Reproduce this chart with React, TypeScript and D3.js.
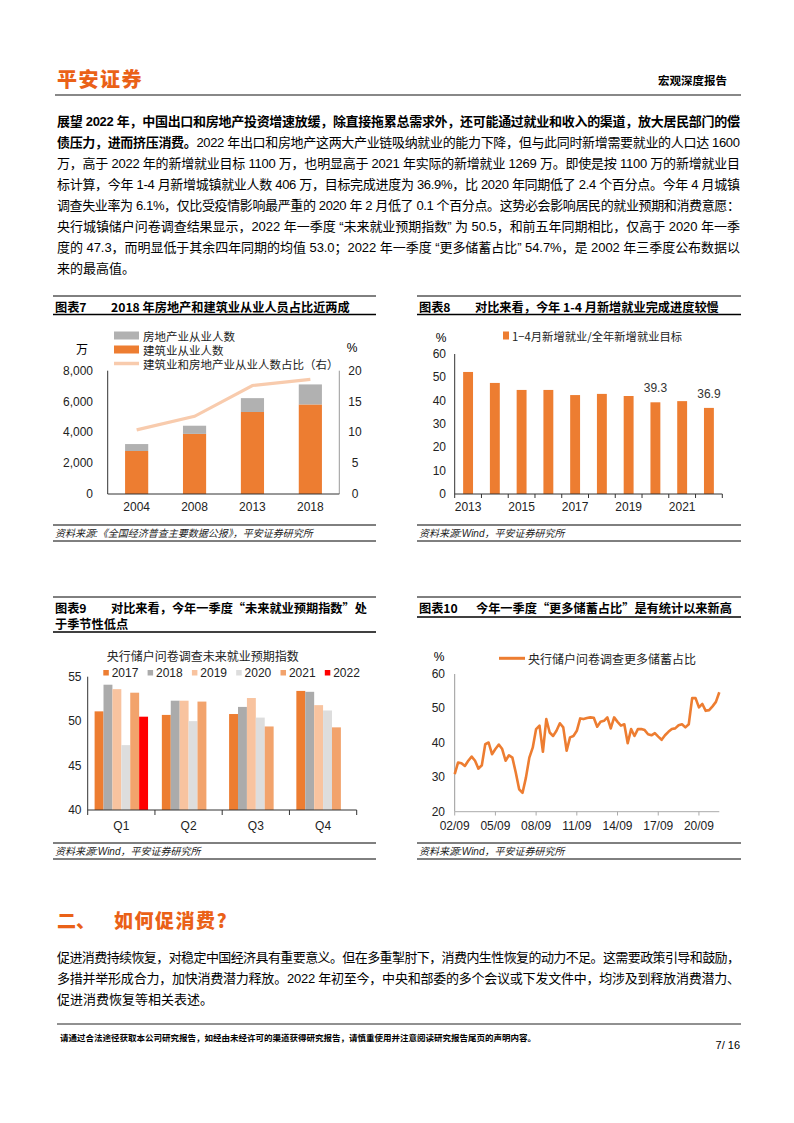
import React from 'react';
import * as d3 from 'd3';

const LAT = "'Liberation Sans', Arial, 'Noto Sans CJK SC', sans-serif";
const CJK = "'Noto Sans CJK SC', 'Liberation Sans', sans-serif";
const ORANGE = '#ed7d31';
const BRAND = '#ea6117';

// ---------- Chart 7 ----------
const c7Years = ['2004', '2008', '2013', '2018'];
const c7Construction = [2790, 3900, 5320, 5810];
const c7RealEstate = [450, 530, 900, 1300];
const c7Share = [10.4, 12.6, 17.6, 18.6];
const c7LeftTicks = [0, 2000, 4000, 6000, 8000];
const c7RightTicks = [0, 5, 10, 15, 20];

// ---------- Chart 8 ----------
const c8Years = ['2013', '2014', '2015', '2016', '2017', '2018', '2019', '2020', '2021', '2022'];
const c8Values = [52.3, 47.6, 44.6, 44.6, 42.4, 42.9, 42.0, 39.3, 39.8, 36.9];
const c8Ticks = [0, 10, 20, 30, 40, 50, 60];
const c8TickYears = ['2013', '2015', '2017', '2019', '2021'];
const c8Labelled = ['2020', '2022'];

// ---------- Chart 9 ----------
const c9Quarters = ['Q1', 'Q2', 'Q3', 'Q4'];
const c9Years = ['2017', '2018', '2019', '2020', '2021', '2022'];
const c9Y2017 = [51.1, 50.7, 50.8, 53.4];
const c9Y2018 = [54.1, 52.3, 51.6, 53.3];
const c9Y2019 = [53.6, 52.3, 52.6, 51.8];
const c9Y2020 = [47.3, 50.0, 50.4, 51.2];
const c9Y2021 = [53.2, 52.2, 49.4, 49.3];
const c9Y2022 = [50.5];
const c9Colors = ['#ed7d31', '#ababab', '#f8c39f', '#dddddd', '#f2a36c', '#ff0000'];
const c9Ticks = [40, 45, 50, 55];

// ---------- Chart 10 ----------
const c10Values = [
  30.9, 34.3, 34.1, 33.3, 34.8, 36.0, 34.8, 32.5, 33.5, 39.6,
  40.1, 36.7, 38.2, 39.5, 38.2, 34.8, 36.4, 35.7, 31.4, 26.5,
  25.5, 29.9, 35.7, 38.6, 44.0, 45.0, 37.4, 46.9, 43.0, 42.0,
  43.5, 45.7, 44.5, 37.7, 41.6, 42.0, 43.5, 47.1, 46.9, 47.2,
  47.4, 47.3, 44.7, 46.1, 46.4, 47.4, 44.2, 47.4, 46.1, 45.0,
  45.4, 39.9, 44.0, 42.0, 44.0, 44.0, 43.7, 42.5, 42.2, 42.8,
  41.8, 40.9, 42.2, 43.2, 44.0, 44.2, 45.1, 45.4, 44.5, 45.4,
  53.0, 53.0, 50.3, 51.3, 49.3, 49.5, 50.6, 51.9, 54.7,
];
const c10TickLabels = ['02/09', '05/09', '08/09', '11/09', '14/09', '17/09', '20/09'];
const c10Ticks = [20, 30, 40, 50, 60];
// quarter labels yy/mm starting 2002-09
const c10Dates: string[] = [];
for (let i = 0; i < 79; i++) {
  const m = 9 + i * 3;
  const y = 2 + Math.floor((m - 1) / 12);
  const mm = ((m - 1) % 12) + 1;
  c10Dates.push(`${String(y).padStart(2, '0')}/${String(mm).padStart(2, '0')}`);
}

// ---------- Text ----------
const para1: { b?: string; n?: string }[] = [
  { b: '展望 2022 年，中国出口和房地产投资增速放缓，除直接拖累总需求外，还可能通过就业和收入的渠道，放大居民部门的偿' },
  { b: '债压力，进而挤压消费。', n: '2022 年出口和房地产这两大产业链吸纳就业的能力下降，但与此同时新增需要就业的人口达 1600' },
  { n: '万，高于 2022 年的新增就业目标 1100 万，也明显高于 2021 年实际的新增就业 1269 万。即使是按 1100 万的新增就业目' },
  { n: '标计算，今年 1-4 月新增城镇就业人数 406 万，目标完成进度为 36.9%，比 2020 年同期低了 2.4 个百分点。今年 4 月城镇' },
  { n: '调查失业率为 6.1%，仅比受疫情影响最严重的 2020 年 2 月低了 0.1 个百分点。这势必会影响居民的就业预期和消费意愿：' },
  { n: '央行城镇储户问卷调查结果显示，2022 年一季度 “未来就业预期指数” 为 50.5，和前五年同期相比，仅高于 2020 年一季' },
  { n: '度的 47.3，而明显低于其余四年同期的均值 53.0；2022 年一季度 “更多储蓄占比” 54.7%，是 2002 年三季度公布数据以' },
  { n: '来的最高值。' },
];
const para2 = [
  '促进消费持续恢复，对稳定中国经济具有重要意义。但在多重掣肘下，消费内生性恢复的动力不足。这需要政策引导和鼓励，',
  '多措并举形成合力，加快消费潜力释放。2022 年初至今，中央和部委的多个会议或下发文件中，均涉及到释放消费潜力、',
  '促进消费恢复等相关表述。',
];

const T = (p: any) => (
  <text fontFamily={LAT} dominantBaseline="central" fill="#000" {...p}>
    {p.children}
  </text>
);

function PanelFrame({ x0, x1, top, titleBottom, srcTop, srcBottom, label, titleLines, titleX, source }: any) {
  return (
    <g>
      <line x1={x0} x2={x1} y1={top} y2={top} stroke="#000" strokeWidth={1} />
      <line x1={x0} x2={x1} y1={titleBottom} y2={titleBottom} stroke="#000" strokeWidth={1.5} />
      <T x={x0 + 2} y={top + 10.5} fontSize={12.2} fontWeight="bold" fontFamily={CJK}>{label}</T>
      {titleLines.map((t: string, i: number) => (
        <T key={i} x={i === 0 ? titleX : x0 + 2} y={top + 10.5 + i * 16.5} fontSize={12.2} fontWeight="bold" fontFamily={CJK}>{t}</T>
      ))}
      <line x1={x0} x2={x1} y1={srcTop} y2={srcTop} stroke="#000" strokeWidth={1} />
      <line x1={x0} x2={x1} y1={srcBottom} y2={srcBottom} stroke="#000" strokeWidth={1} />
      <T x={x0 + 2} y={(srcTop + srcBottom) / 2 + 0.5} fontSize={10} fontStyle="italic" fill="#222">{source}</T>
    </g>
  );
}

function Chart7() {
  const x = d3.scaleBand<string>().domain(c7Years).range([107.7, 339.3]).paddingInner(0.6).paddingOuter(0.3);
  const y = d3.scaleLinear().domain([0, 8000]).range([494, 370.7]);
  const yr = d3.scaleLinear().domain([0, 20]).range([494, 370.7]);
  const line = d3.line<number>().x((_, i) => (x(c7Years[i]) as number) + x.bandwidth() / 2).y((d) => yr(d));
  return (
    <g>
      {c7Years.map((yrLabel, i) => {
        const bx = x(yrLabel) as number;
        const total = c7Construction[i] + c7RealEstate[i];
        return (
          <g key={yrLabel}>
            <rect x={bx} width={x.bandwidth()} y={y(c7Construction[i])} height={y(0) - y(c7Construction[i])} fill={ORANGE} />
            <rect x={bx} width={x.bandwidth()} y={y(total)} height={y(c7Construction[i]) - y(total)} fill="#b1b1b1" />
            <T x={bx + x.bandwidth() / 2} y={507} fontSize={12} textAnchor="middle" fill="#222">{yrLabel}</T>
          </g>
        );
      })}
      <path d={line(c7Share) || ''} fill="none" stroke="#f8cbad" strokeWidth={3.2} />
      <line x1={107.7} x2={107.7} y1={370.7} y2={494} stroke="#333" strokeWidth={1} />
      <line x1={339.3} x2={339.3} y1={370.7} y2={494} stroke="#999" strokeWidth={1} />
      <line x1={107.7} x2={339.3} y1={494} y2={494} stroke="#333" strokeWidth={1} />
      {c7LeftTicks.map((t) => (
        <T key={t} x={93} y={y(t)} fontSize={12} textAnchor="end" fill="#222">{d3.format(',')(t)}</T>
      ))}
      {c7RightTicks.map((t) => (
        <T key={t} x={355} y={yr(t)} fontSize={12} textAnchor="middle" fill="#222">{t}</T>
      ))}
      <T x={82} y={348} fontSize={12} textAnchor="middle" fontFamily={CJK}>万</T>
      <T x={352} y={348} fontSize={12} textAnchor="middle">%</T>
      <rect x={114} y={331.5} width={25} height={8} fill="#b1b1b1" />
      <T x={143} y={335.5} fontSize={11.5} fontFamily={CJK} fill="#222">房地产业从业人数</T>
      <rect x={114} y={345.5} width={25} height={8} fill={ORANGE} />
      <T x={143} y={349.5} fontSize={11.5} fontFamily={CJK} fill="#222">建筑业从业人数</T>
      <line x1={114} x2={139} y1={363.5} y2={363.5} stroke="#f8cbad" strokeWidth={3.5} />
      <T x={143} y={363.5} fontSize={11.5} fontFamily={CJK} fill="#222">建筑业和房地产业从业人数占比（右）</T>
    </g>
  );
}

function Chart8() {
  const x = d3.scaleBand<string>().domain(c8Years).range([454.7, 722.3]).paddingInner(0.63).paddingOuter(0.315);
  const y = d3.scaleLinear().domain([0, 60]).range([494, 354]);
  const step = x.step();
  return (
    <g>
      {c8Years.map((yy, i) => {
        const bx = x(yy) as number;
        return (
          <g key={yy}>
            <rect x={bx} width={x.bandwidth()} y={y(c8Values[i])} height={y(0) - y(c8Values[i])} fill={ORANGE} />
            {c8Labelled.includes(yy) && (
              <T x={bx + x.bandwidth() / 2} y={y(c8Values[i]) - 14} fontSize={12} textAnchor="middle" fill="#333">{c8Values[i].toFixed(1)}</T>
            )}
            {c8TickYears.includes(yy) && (
              <T x={bx + x.bandwidth() / 2} y={507} fontSize={12} textAnchor="middle" fill="#222">{yy}</T>
            )}
          </g>
        );
      })}
      {d3.range(c8Years.length + 1).map((i) => (
        <line key={i} x1={454.7 + i * step} x2={454.7 + i * step} y1={494} y2={498} stroke="#333" />
      ))}
      <line x1={454.7} x2={454.7} y1={354} y2={494} stroke="#333" />
      <line x1={454.7} x2={722.3} y1={494} y2={494} stroke="#333" />
      {c8Ticks.map((t) => (
        <T key={t} x={446} y={y(t)} fontSize={12} textAnchor="end" fill="#222">{t}</T>
      ))}
      <T x={441} y={338} fontSize={12} textAnchor="middle">%</T>
      <rect x={503} y={331.5} width={6} height={8} fill={ORANGE} />
      <T x={512} y={335.7} fontSize={11.3} fontFamily={CJK} fill="#222">1−4月新增就业/全年新增就业目标</T>
    </g>
  );
}

function Chart9() {
  const x0 = d3.scaleBand<string>().domain(c9Quarters).range([87.7, 356.7]);
  const x1 = d3.scaleBand<string>().domain(c9Years).range([6.9, x0.bandwidth() - 6.9]);
  const y = d3.scaleLinear().domain([40, 55]).range([810, 676.7]);
  const series = [c9Y2017, c9Y2018, c9Y2019, c9Y2020, c9Y2021, c9Y2022];
  return (
    <g>
      {c9Quarters.map((q, qi) => (
        <g key={q}>
          {series.map((s, si) =>
            s[qi] === undefined ? null : (
              <rect key={si} x={(x0(q) as number) + (x1(c9Years[si]) as number)} width={x1.bandwidth()}
                y={y(s[qi])} height={y(40) - y(s[qi])} fill={c9Colors[si]} />
            )
          )}
          <T x={(x0(q) as number) + x0.bandwidth() / 2} y={825.5} fontSize={12} textAnchor="middle" fill="#222">{q}</T>
        </g>
      ))}
      {d3.range(c9Quarters.length + 1).map((i) => (
        <line key={i} x1={87.7 + i * x0.step()} x2={87.7 + i * x0.step()} y1={810} y2={815} stroke="#333" />
      ))}
      <line x1={87.7} x2={87.7} y1={676.7} y2={810} stroke="#333" />
      <line x1={87.7} x2={356.7} y1={810} y2={810} stroke="#333" />
      {c9Ticks.map((t) => (
        <T key={t} x={81.5} y={y(t)} fontSize={12} textAnchor="end" fill="#222">{t}</T>
      ))}
      <T x={106.7} y={655} fontSize={12} fontFamily={CJK} fill="#222">央行储户问卷调查未来就业预期指数</T>
      {c9Years.map((yy, i) => (
        <g key={yy}>
          <rect x={103.3 + i * 44.3} y={670} width={5.5} height={5.5} fill={c9Colors[i]} />
          <T x={111.7 + i * 44.3} y={673} fontSize={12} fill="#222">{yy}</T>
        </g>
      ))}
    </g>
  );
}

function Chart10() {
  const x = d3.scalePoint<string>().domain(c10Dates).range([454.7, 719.3]);
  const y = d3.scaleLinear().domain([20, 60]).range([811.7, 674]);
  const line = d3.line<number>().x((_, i) => x(c10Dates[i]) as number).y((d) => y(d));
  return (
    <g>
      <line x1={454.7} x2={454.7} y1={674} y2={811.7} stroke="#999" />
      <line x1={454.7} x2={719.3} y1={811.7} y2={811.7} stroke="#aaa" />
      {c10TickLabels.map((l) => (
        <g key={l}>
          <line x1={x(l) as number} x2={x(l) as number} y1={811.7} y2={815.5} stroke="#aaa" />
          <T x={x(l) as number} y={825.7} fontSize={12} textAnchor="middle" fill="#222">{l}</T>
        </g>
      ))}
      {c10Ticks.map((t) => (
        <T key={t} x={445} y={y(t)} fontSize={12} textAnchor="end" fill="#222">{t}</T>
      ))}
      <path d={line(c10Values) || ''} fill="none" stroke={ORANGE} strokeWidth={2.6} strokeLinejoin="round" />
      <T x={439} y={657} fontSize={12} textAnchor="middle">%</T>
      <line x1={499} x2={525} y1={658.3} y2={658.3} stroke={ORANGE} strokeWidth={3} />
      <T x={528} y={658.3} fontSize={12} fontFamily={CJK} fill="#222">央行储户问卷调查更多储蓄占比</T>
    </g>
  );
}

export default function App() {
  const LX0 = 53, LX1 = 376, RX0 = 417, RX1 = 741;
  return (
    <svg width={794} height={1123} viewBox="0 0 794 1123" style={{ position: 'absolute', left: 0, top: 0, background: '#fff' }}>
      <rect x={0} y={0} width={794} height={1123} fill="#fff" />
      {/* header */}
      <T x={57} y={78} fontSize={20} fontWeight="900" fill={BRAND} fontFamily={CJK} letterSpacing={1.5}>平安证券</T>
      <T x={727} y={80} fontSize={11.5} fontWeight="bold" textAnchor="end" fontFamily={CJK}>宏观深度报告</T>
      <line x1={55} x2={741} y1={95} y2={95} stroke="#888" strokeWidth={2} />

      {/* paragraph 1 */}
      {para1.map((ln, i) => {
        const last = i === para1.length - 1;
        return (
          <text key={i} x={57} y={121 + i * 21} fontSize={13} fontFamily={LAT} dominantBaseline="central"
            {...(!last ? { textLength: 683, lengthAdjust: 'spacing' } : {})}>
            {ln.b && <tspan fontWeight="bold">{ln.b}</tspan>}
            {ln.n && <tspan>{ln.n}</tspan>}
          </text>
        );
      })}

      {/* panels */}
      <PanelFrame x0={LX0} x1={LX1} top={296} titleBottom={314.5} srcTop={525} srcBottom={541}
        label="图表7" titleX={111} titleLines={['2018 年房地产和建筑业从业人员占比近两成']}
        source="资料来源:《全国经济普查主要数据公报》，平安证券研究所" />
      <PanelFrame x0={RX0} x1={RX1} top={296} titleBottom={314.5} srcTop={525} srcBottom={541}
        label="图表8" titleX={475} titleLines={['对比来看，今年 1-4 月新增就业完成进度较慢']}
        source="资料来源:Wind，平安证券研究所" />
      <PanelFrame x0={LX0} x1={LX1} top={597} titleBottom={632} srcTop={843} srcBottom={859}
        label="图表9" titleX={111} titleLines={['对比来看，今年一季度“未来就业预期指数”处', '于季节性低点']}
        source="资料来源:Wind，平安证券研究所" />
      <PanelFrame x0={RX0} x1={RX1} top={597} titleBottom={617} srcTop={843} srcBottom={859}
        label="图表10" titleX={476} titleLines={['今年一季度“更多储蓄占比”是有统计以来新高']}
        source="资料来源:Wind，平安证券研究所" />

      <Chart7 />
      <Chart8 />
      <Chart9 />
      <Chart10 />

      {/* section heading */}
      <T x={57} y={919} fontSize={19} fontWeight="900" fill={BRAND} fontFamily={CJK}>二、</T>
      <T x={114} y={919} fontSize={19} fontWeight="900" fill={BRAND} fontFamily={CJK} letterSpacing={1.5}>如何促消费?</T>

      {para2.map((ln, i) => {
        const last = i === para2.length - 1;
        return (
          <text key={i} x={57} y={957 + i * 21} fontSize={13} fontFamily={LAT} dominantBaseline="central"
            {...(!last ? { textLength: 683, lengthAdjust: 'spacing' } : {})}>
            {ln}
          </text>
        );
      })}

      {/* footer */}
      <line x1={57} x2={741} y1={1024} y2={1024} stroke="#222" strokeWidth={1} />
      <T x={60} y={1037} fontSize={8.5} fontFamily={CJK} fontWeight="bold">请通过合法途径获取本公司研究报告，如经由未经许可的渠道获得研究报告，请慎重使用并注意阅读研究报告尾页的声明内容。</T>
      <T x={740} y={1045} fontSize={11} textAnchor="end">7/ 16</T>
    </svg>
  );
}
